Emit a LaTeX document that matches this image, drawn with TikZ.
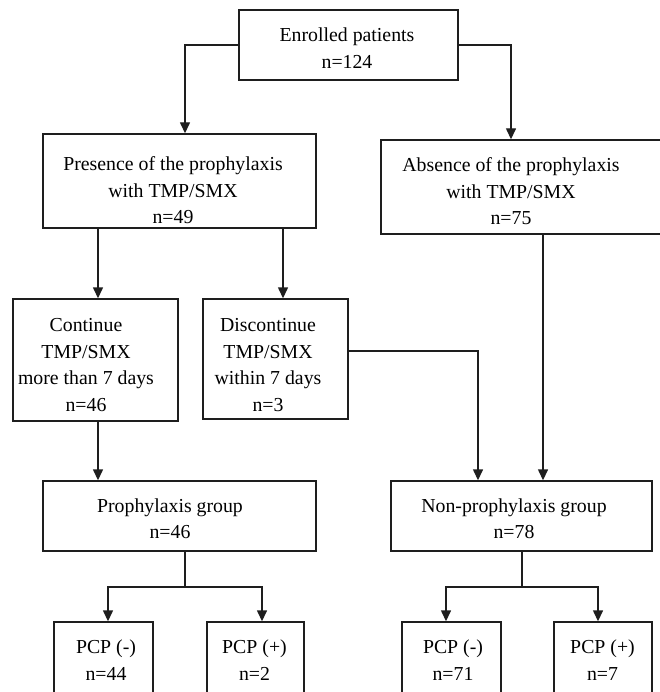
\documentclass[tikz,border=0pt]{standalone}
\usepackage{fontspec}
\setmainfont{Liberation Serif}
\usetikzlibrary{arrows.meta}
\definecolor{ink}{HTML}{1E1E1E}
\tikzset{
  boxnode/.style={draw=ink, line width=1.4pt, inner sep=0pt, anchor=center},
  txt/.style={align=center, text=black, inner sep=0pt, font=\fontsize{19.8}{26.4}\selectfont},
  link/.style={draw=ink, line width=1.4pt},
  arr/.style={link, -{Triangle[length=11pt,width=10pt]}}
}
\begin{document}
\begin{tikzpicture}[x=1pt,y=-1pt]
\useasboundingbox (0,0) rectangle (659,692);
% boxes
\node[boxnode, minimum width=219pt, minimum height=70pt] (enrolled) at (348.5,45) {};
\node[boxnode, minimum width=273pt, minimum height=94pt] (presence) at (179.5,181) {};
\node[boxnode, minimum width=281pt, minimum height=94pt] (absence) at (521.5,187) {};
\node[boxnode, minimum width=165pt, minimum height=122pt] (continue) at (95.3,360) {};
\node[boxnode, minimum width=145pt, minimum height=120pt] (discont) at (275.5,359) {};
\node[boxnode, minimum width=273pt, minimum height=70pt] (proph) at (179.5,516) {};
\node[boxnode, minimum width=261pt, minimum height=70pt] (nonproph) at (521.5,516) {};
\node[boxnode, minimum width=99pt, minimum height=80pt] (pcpa) at (103.5,662) {};
\node[boxnode, minimum width=97pt, minimum height=80pt] (pcpb) at (255.5,662) {};
\node[boxnode, minimum width=99pt, minimum height=80pt] (pcpc) at (451.5,662) {};
\node[boxnode, minimum width=98pt, minimum height=80pt] (pcpd) at (603,662) {};
% texts
\node[txt] (enrolledT) at (347,48) {Enrolled patients\\n=124};
\node[txt] (presenceT) at (173,190.5) {Presence of the prophylaxis\\with TMP/SMX\\n=49};
\node[txt] (absenceT) at (511,191.5) {Absence of the prophylaxis\\with TMP/SMX\\n=75};
\node[txt] (continueT) at (86,365) {Continue\\TMP/SMX\\more than 7 days\\n=46};
\node[txt] (discontT) at (268,365) {Discontinue\\TMP/SMX\\within 7 days\\n=3};
\node[txt] (prophT) at (170,519) {Prophylaxis group\\n=46};
\node[txt] (nonprophT) at (514,519) {Non-prophylaxis group\\n=78};
\node[txt] (pcpaT) at (106,660) {PCP (-)\\n=44};
\node[txt] (pcpbT) at (254.5,660) {PCP (+)\\n=2};
\node[txt] (pcpcT) at (453,660) {PCP (-)\\n=71};
\node[txt] (pcpdT) at (602.5,660) {PCP (+)\\n=7};
% columns and rows
\coordinate (colC) at (185,0);
\coordinate (colD) at (511,0);
\coordinate (colA) at (98,0);
\coordinate (colB) at (283,0);
\coordinate (colE) at (478,0);
\coordinate (colF) at (543,0);
\coordinate (rowD) at (0,351);
\coordinate (stemP) at (185,0);
\coordinate (stemN) at (522,0);
\coordinate (rowB) at (0,587);
\coordinate (bA) at (108,0);
\coordinate (bB) at (262,0);
\coordinate (bC) at (446,0);
\coordinate (bD) at (598,0);
% connectors
\draw[arr] (enrolled.west) -| (presence.north -| colC);
\draw[arr] (enrolled.east) -| (absence.north -| colD);
\draw[arr] (presence.south -| colA) -- (continue.north -| colA);
\draw[arr] (presence.south -| colB) -- (discont.north -| colB);
\draw[arr] (continue.south -| colA) -- (proph.north -| colA);
\draw[arr] (discont.east |- rowD) -| (nonproph.north -| colE);
\draw[arr] (absence.south -| colF) -- (nonproph.north -| colF);
\draw[link] (proph.south -| stemP) -- (stemP |- rowB);
\draw[arr] (stemP |- rowB) -| (pcpa.north -| bA);
\draw[arr] (stemP |- rowB) -| (pcpb.north -| bB);
\draw[link] (nonproph.south -| stemN) -- (stemN |- rowB);
\draw[arr] (stemN |- rowB) -| (pcpc.north -| bC);
\draw[arr] (stemN |- rowB) -| (pcpd.north -| bD);
\end{tikzpicture}
\end{document}
